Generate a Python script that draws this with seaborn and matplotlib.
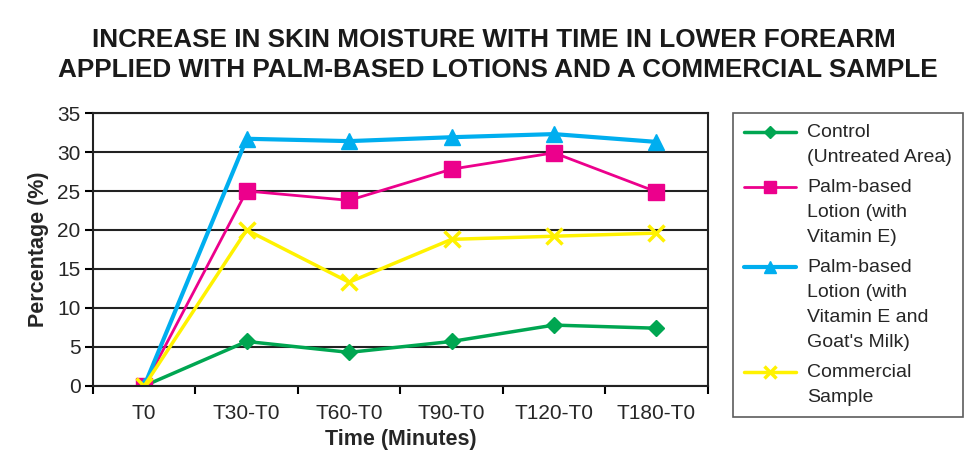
import matplotlib
matplotlib.use("Agg")
import matplotlib.pyplot as plt
import seaborn as sns
import pandas as pd
from matplotlib.ticker import FixedLocator

categories = ["T0", "T30-T0", "T60-T0", "T90-T0", "T120-T0", "T180-T0"]
control = [0, 5.7, 4.3, 5.7, 7.8, 7.4]
lotion_e = [0, 25.0, 23.8, 27.8, 29.9, 24.9]
lotion_e_milk = [0, 31.7, 31.4, 31.9, 32.3, 31.3]
commercial = [0, 20.0, 13.3, 18.8, 19.2, 19.6]

series_names = [
    "Control\n(Untreated Area)",
    "Palm-based\nLotion (with\nVitamin E)",
    "Palm-based\nLotion (with\nVitamin E and\nGoat's Milk)",
    "Commercial\nSample",
]
series_values = [control, lotion_e, lotion_e_milk, commercial]
colors = ["#00A651", "#EC008C", "#00AEEF", "#FFF200"]
markers = ["D", "s", "^", "x"]
msizes = [8, 11, 11, 11]
lwidths = [2.5, 2.0, 3.0, 2.5]

rows = []
for name, vals in zip(series_names, series_values):
    for i, v in enumerate(vals):
        rows.append({"pos": i, "value": v, "series": name})
df = pd.DataFrame(rows)

sns.set_theme(style="white")
plt.rcParams["font.family"] = ["Liberation Sans", "DejaVu Sans"]

fig = plt.figure(figsize=(9.72, 4.54), dpi=100)
ax = fig.add_axes([0.0957, 0.150, 0.728 - 0.0957, 0.751 - 0.150])

for name, col, mk, ms, lw in zip(series_names, colors, markers, msizes, lwidths):
    sub = df[df["series"] == name]
    sns.lineplot(data=sub, x="pos", y="value", ax=ax, color=col, marker=mk,
                 markersize=ms, linewidth=lw, label=name,
                 markeredgecolor=col, markeredgewidth=2.5 if mk == "x" else 1)

ax.set_xlim(-0.5, 5.5)
ax.set_ylim(0, 35)
ax.set_yticks(range(0, 36, 5))
ax.set_yticklabels([str(v) for v in range(0, 36, 5)], fontsize=15)
ax.set_xticks(range(len(categories)))
ax.set_xticklabels(categories, fontsize=15)
ax.xaxis.set_minor_locator(FixedLocator([i - 0.5 for i in range(len(categories) + 1)]))
ax.tick_params(axis="x", which="major", length=0, pad=13)
ax.tick_params(axis="x", which="minor", length=6, width=1.5, color="black", direction="out", bottom=True)
ax.tick_params(axis="y", which="major", length=6, width=1.5, color="black", direction="out", left=True, pad=3)

ax.grid(axis="y", color="#222222", linewidth=1.5)
ax.grid(axis="x", visible=False)
for s in ax.spines.values():
    s.set_color("#222222")
    s.set_linewidth(1.5)

ax.set_xlabel("Time (Minutes)", fontsize=15.5, fontweight="bold", labelpad=4)
ax.set_ylabel("Percentage (%)", fontsize=15.5, fontweight="bold", labelpad=6)

fig.text(0.508, 0.911, "INCREASE IN SKIN MOISTURE WITH TIME IN LOWER FOREARM",
         ha="center", va="center", fontsize=18.85, fontweight="bold", color="#1a1a1a")
fig.text(0.512, 0.845, "APPLIED WITH PALM-BASED LOTIONS AND A COMMERCIAL SAMPLE",
         ha="center", va="center", fontsize=18.85, fontweight="bold", color="#1a1a1a")

leg = ax.legend(loc="upper left", bbox_to_anchor=(0.754, 0.751),
                bbox_transform=fig.transFigure, fontsize=14, frameon=True,
                fancybox=False, edgecolor="#333333", borderpad=0.55,
                labelspacing=0.7, handlelength=2.7, handletextpad=0.57,
                handleheight=1.1, borderaxespad=0, markerscale=0.75)
leg.get_frame().set_linewidth(1.2)
for t in leg.get_texts():
    t.set_linespacing(1.6)
for column in leg._legend_handle_box.get_children():
    for item in column.get_children():
        item.align = "top"

fig.savefig("out.png", dpi=100)
